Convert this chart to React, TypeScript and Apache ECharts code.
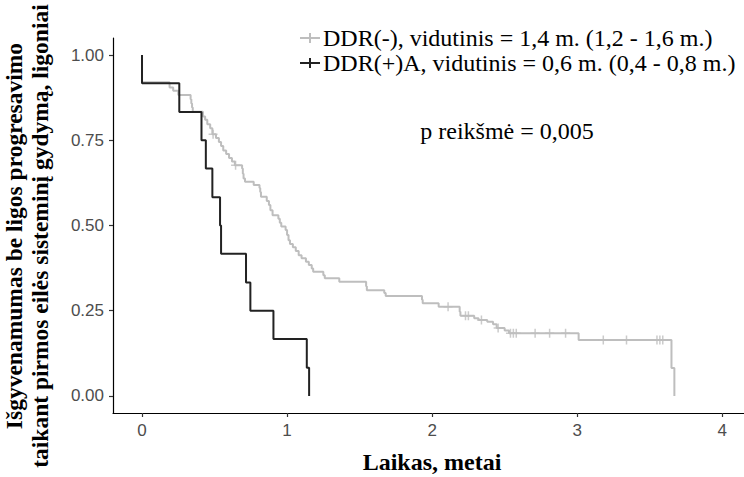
import React, { useEffect, useRef } from "react";
import * as echarts from "echarts";

const xTicks = [0, 1, 2, 3, 4];
const yTicks = [0, 0.25, 0.5, 0.75, 1];

const legendLabels = [
  "DDR(-), vidutinis = 1,4 m. (1,2 - 1,6 m.)",
  "DDR(+)A, vidutinis = 0,6 m. (0,4 - 0,8 m.)",
];
const pValueText = "p reikšmė = 0,005";
const xTitle = "Laikas, metai";
const yTitleLines = [
  "Išgyvenamumas be ligos progresavimo",
  "taikant pirmos eilės sisteminį gydymą, ligoniai",
];

// DDR(-) Kaplan-Meier steps: [time, survival after event]
const graySteps: [number, number][] = [
  [0, 1], [0, 0.92], [0.19, 0.905], [0.215, 0.895], [0.25, 0.883], [0.335, 0.87],
  [0.34, 0.858], [0.345, 0.846], [0.35, 0.834], [0.42, 0.82], [0.435, 0.81],
  [0.45, 0.797], [0.47, 0.785], [0.485, 0.768], [0.51, 0.757], [0.53, 0.745],
  [0.545, 0.733], [0.56, 0.72], [0.58, 0.71], [0.6, 0.698], [0.62, 0.688],
  [0.64, 0.677], [0.69, 0.667], [0.695, 0.652], [0.7, 0.638], [0.71, 0.628],
  [0.77, 0.619], [0.81, 0.61], [0.815, 0.598], [0.82, 0.584], [0.86, 0.572],
  [0.875, 0.56], [0.885, 0.545], [0.9, 0.53], [0.94, 0.52], [0.95, 0.508],
  [0.96, 0.497], [0.99, 0.487], [1.0, 0.472], [1.01, 0.457], [1.02, 0.446],
  [1.04, 0.436], [1.06, 0.425], [1.08, 0.413], [1.1, 0.404], [1.13, 0.394],
  [1.15, 0.384], [1.17, 0.374], [1.18, 0.364], [1.25, 0.354], [1.26, 0.345],
  [1.36, 0.335], [1.545, 0.322], [1.55, 0.31], [1.67, 0.302], [1.68, 0.293],
  [1.93, 0.282], [1.935, 0.272], [2.045, 0.262], [2.19, 0.247], [2.195, 0.235],
  [2.29, 0.228], [2.32, 0.223], [2.38, 0.218], [2.42, 0.21], [2.445, 0.199],
  [2.5, 0.192], [2.53, 0.184], [3.01, 0.164], [3.65, 0.082], [3.67, 0],
];
const grayCensors: [number, number][] = [
  [0.49, 0.768], [0.645, 0.677], [2.11, 0.262], [2.23, 0.235], [2.25, 0.235],
  [2.34, 0.223], [2.455, 0.199], [2.54, 0.184], [2.56, 0.184], [2.58, 0.184],
  [2.71, 0.184], [2.81, 0.184], [2.92, 0.184], [3.18, 0.164], [3.34, 0.164],
  [3.55, 0.164], [3.57, 0.164], [3.59, 0.164],
];

// DDR(+)A Kaplan-Meier steps
const blackSteps: [number, number][] = [
  [0, 1], [0, 0.917], [0.257, 0.833], [0.41, 0.75], [0.44, 0.667], [0.485, 0.583],
  [0.538, 0.5], [0.545, 0.417], [0.717, 0.333], [0.747, 0.25], [0.906, 0.167],
  [1.136, 0.083], [1.152, 0],
];

const GRAY = "#bebebe";
const BLACK = "#222222";
const SERIF = "Liberation Serif";
const SANS = "Liberation Sans";
const PLUS = "path://M5,0L5,10M0,5L10,5";

function txt(text: string, x: number, y: number, size: number, bold: boolean, align: string, extra: any = {}) {
  return {
    type: "text",
    x,
    y,
    ...extra,
    style: {
      text,
      fontSize: size,
      fontFamily: SERIF,
      fontWeight: bold ? "bold" : "normal",
      fill: "#000",
      align,
      verticalAlign: "middle",
      textAlign: align,
      textVerticalAlign: "middle",
    },
  };
}

export default function App() {
  const ref = useRef<HTMLDivElement>(null);
  useEffect(() => {
    const chart = echarts.init(ref.current!, null, { renderer: "svg" });
    const legendGraphics: any[] = [];
    [GRAY, BLACK].forEach((c, i) => {
      const y = 38 + i * 25;
      legendGraphics.push(
        { type: "line", shape: { x1: 300, y1: y, x2: 320, y2: y }, style: { stroke: c, lineWidth: 2 } },
        { type: "line", shape: { x1: 310, y1: y - 5, x2: 310, y2: y + 5 }, style: { stroke: c, lineWidth: 2 } },
        txt(legendLabels[i], 323, y, 24, false, "left")
      );
    });
    chart.setOption({
      animation: false,
      backgroundColor: "#ffffff",
      grid: { left: 113, right: 0, top: 38, bottom: 64 },
      xAxis: {
        type: "value",
        min: -0.2,
        max: 4.15,
        splitLine: { show: false },
        axisLine: { show: true, onZero: false, lineStyle: { color: "#000", width: 1.2 } },
        axisTick: { show: true, customValues: xTicks, length: 4, lineStyle: { color: "#333", width: 1.2 } },
        axisLabel: { customValues: xTicks, color: "#4d4d4d", fontSize: 17, fontFamily: SANS, margin: 9 },
      },
      yAxis: {
        type: "value",
        min: -0.05,
        max: 1.05,
        splitLine: { show: false },
        axisLine: { show: true, onZero: false, lineStyle: { color: "#000", width: 1.2 } },
        axisTick: { show: true, customValues: yTicks, length: 4, lineStyle: { color: "#333", width: 1.2 } },
        axisLabel: {
          customValues: yTicks,
          color: "#4d4d4d",
          fontSize: 17,
          fontFamily: SANS,
          margin: 9,
          formatter: (v: number) => v.toFixed(2),
        },
      },
      series: [
        {
          type: "line",
          data: graySteps,
          step: "end",
          showSymbol: false,
          lineStyle: { color: GRAY, width: 2 },
          z: 2,
        },
        {
          type: "scatter",
          data: grayCensors,
          symbol: PLUS,
          symbolSize: 9,
          itemStyle: { color: GRAY, borderColor: GRAY, borderWidth: 1.5 },
          z: 3,
        },
        {
          type: "line",
          data: blackSteps,
          step: "end",
          showSymbol: false,
          lineStyle: { color: BLACK, width: 2 },
          z: 4,
        },
      ],
      graphic: [
        ...legendGraphics,
        txt(pValueText, 507, 131, 24, false, "center"),
        txt(xTitle, 432, 462, 24, true, "center"),
        ...yTitleLines.map((t, i) =>
          txt(t, 14 + i * 26, 236, 23.5, true, "center", { rotation: Math.PI / 2 })
        ),
      ],
    });
    return () => chart.dispose();
  }, []);
  return (
    <div
      ref={ref}
      style={{ position: "fixed", left: 0, top: 0, width: 744, height: 477, background: "#fff" }}
    />
  );
}
